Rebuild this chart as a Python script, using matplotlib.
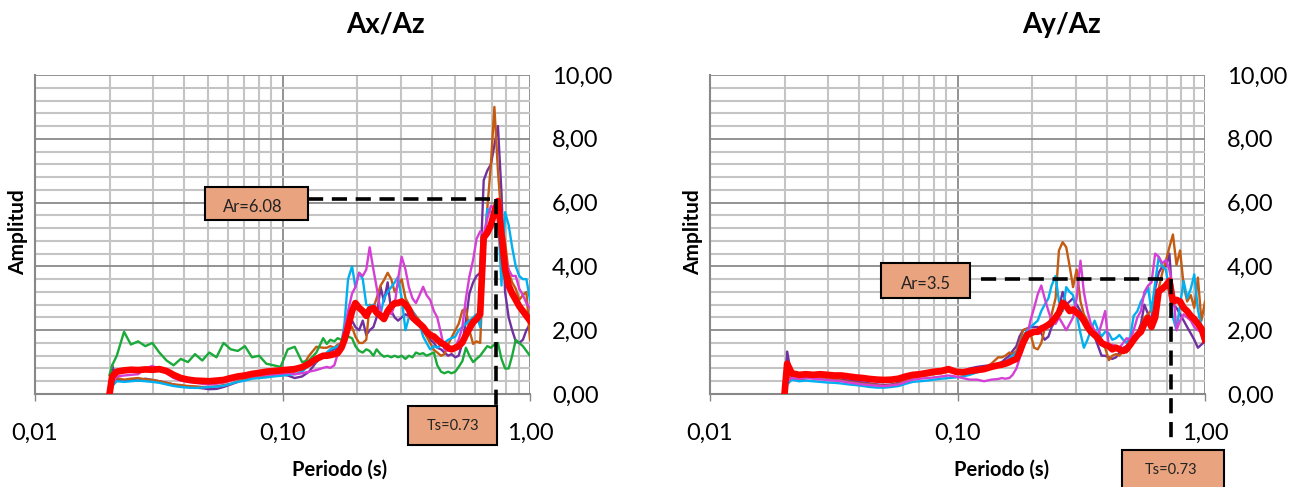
import matplotlib
matplotlib.use("Agg")
import matplotlib.pyplot as plt
from matplotlib.ticker import FixedLocator, FixedFormatter, NullFormatter, MultipleLocator
from matplotlib.patches import Rectangle

plt.rcParams['font.family'] = ['Lato', 'DejaVu Sans']

# ---------------- data ----------------
periods = [0.0200, 0.0205, 0.0214, 0.0229, 0.0244, 0.0261, 0.0279, 0.0298, 0.0318, 0.0340,
           0.0363, 0.0388, 0.0415, 0.0443, 0.0474, 0.0506, 0.0541, 0.0578, 0.0618, 0.0660,
           0.0705, 0.0753, 0.0805, 0.0860, 0.0919, 0.0982, 0.105, 0.112, 0.120, 0.128,
           0.137, 0.146,
           0.151, 0.156, 0.162, 0.167, 0.173, 0.178, 0.184, 0.191, 0.197, 0.204,
           0.211, 0.218, 0.225, 0.233, 0.240, 0.249, 0.257, 0.266, 0.275, 0.284,
           0.293, 0.303, 0.314, 0.324, 0.335, 0.346, 0.358, 0.370, 0.382, 0.395,
           0.409, 0.422, 0.437, 0.451, 0.467, 0.482, 0.499, 0.515, 0.533, 0.551,
           0.569, 0.589, 0.608, 0.629, 0.650, 0.672, 0.695, 0.718, 0.742, 0.767,
           0.793, 0.820, 0.847, 0.876, 0.905, 0.936, 0.967, 1.000]

# ---- Ax/Az ----
ax_purple = [0.00, 0.90, 0.45, 0.40, 0.45, 0.42, 0.48, 0.44, 0.40, 0.35,
             0.30, 0.25, 0.22, 0.20, 0.18, 0.15, 0.16, 0.22, 0.30, 0.38,
             0.45, 0.50, 0.55, 0.57, 0.60, 0.62, 0.58, 0.50, 0.55, 0.70,
             1.00, 1.20,
             1.25, 1.35, 1.40, 1.45, 1.55, 1.80, 2.20, 2.30, 2.10, 2.00,
             2.30, 1.85, 2.00, 2.10, 2.40, 3.36, 2.90, 3.50, 2.60, 2.40,
             2.30, 2.40, 2.50, 2.45, 2.40, 2.30, 2.20, 2.10, 1.90, 1.70,
             1.60, 1.45, 1.40, 1.30, 1.20, 1.25, 1.15, 1.20, 1.60, 2.30,
             3.15, 3.50, 3.70, 3.80, 6.70, 7.00, 7.20, 7.80, 8.40, 6.30,
             3.20, 2.40, 2.00, 1.65, 1.60, 1.70, 2.00, 2.20]
ax_orange = [0.00, 0.35, 0.50, 0.45, 0.48, 0.50, 0.46, 0.44, 0.40, 0.35,
             0.30, 0.28, 0.25, 0.24, 0.22, 0.22, 0.24, 0.28, 0.32, 0.40,
             0.45, 0.50, 0.55, 0.58, 0.62, 0.66, 0.68, 0.70, 0.85, 1.20,
             1.48, 1.45,
             1.45, 1.50, 1.45, 1.55, 1.60, 1.90, 2.00, 2.10, 1.80, 1.60,
             1.60, 1.70, 2.80, 2.70, 3.00, 3.40, 3.57, 3.80, 3.60, 3.20,
             3.40, 3.60, 3.00, 2.80, 2.60, 2.45, 2.30, 2.00, 1.80, 1.60,
             1.38, 1.30, 1.20, 1.25, 1.55, 1.77, 2.00, 2.20, 2.62, 2.67,
             2.00, 1.57, 1.65, 1.60, 4.20, 5.80, 7.20, 9.00, 7.00, 5.50,
             4.75, 3.80, 3.50, 3.30, 2.95, 3.10, 3.20, 1.70]
ax_cyan = [0.00, 0.25, 0.40, 0.38, 0.40, 0.42, 0.40, 0.38, 0.35, 0.30,
           0.25, 0.22, 0.20, 0.19, 0.20, 0.22, 0.23, 0.26, 0.32, 0.38,
           0.42, 0.48, 0.50, 0.52, 0.55, 0.57, 0.60, 0.62, 0.70, 0.90,
           1.00, 1.20,
           1.30, 1.40, 1.45, 1.50, 1.60, 2.20, 3.60, 4.00, 3.35, 3.80,
           3.60, 2.80, 2.75, 2.80, 2.60, 2.50, 3.00, 3.20, 3.35, 3.50,
           3.67, 3.00, 2.00, 2.40, 2.60, 2.40, 2.20, 1.80, 1.60, 1.40,
           1.50, 1.45, 1.55, 1.60, 1.70, 1.75, 1.80, 2.00, 2.10, 2.20,
           2.30, 2.40, 2.50, 2.10, 4.50, 5.80, 5.70, 5.60, 5.70, 3.40,
           5.70, 5.30, 4.60, 4.00, 3.70, 3.60, 3.60, 2.95]
ax_magenta = [0.00, 0.35, 0.55, 0.58, 0.60, 0.62, 0.80, 0.88, 0.78, 0.65,
              0.50, 0.42, 0.38, 0.35, 0.32, 0.30, 0.32, 0.36, 0.42, 0.48,
              0.52, 0.55, 0.58, 0.60, 0.62, 0.64, 0.66, 0.62, 0.65, 0.70,
              0.75, 0.82,
              0.85, 0.82, 0.90, 1.25, 1.60, 2.00, 2.60, 3.15, 3.35, 3.80,
              3.70, 3.90, 4.60, 3.90, 3.35, 2.60, 2.30, 2.70, 2.50, 2.80,
              3.60, 4.30, 3.90, 3.35, 3.00, 2.85, 3.10, 3.36, 3.10, 2.95,
              2.60, 2.40, 1.90, 1.40, 1.35, 1.45, 1.50, 1.70, 2.10, 3.00,
              3.68, 4.20, 4.86, 5.10, 5.00, 5.50, 5.90, 5.80, 5.50, 4.90,
              4.30, 3.90, 3.70, 3.70, 3.30, 3.10, 2.85, 2.70]
ax_green = [0.60, 0.90, 1.20, 1.95, 1.55, 1.65, 1.50, 1.60, 1.30, 1.05,
            0.90, 1.10, 1.00, 1.25, 1.05, 1.30, 1.15, 1.60, 1.40, 1.35,
            1.50, 1.15, 1.20, 0.95, 0.90, 0.85, 1.40, 1.48, 1.00, 1.05,
            1.30, 1.75,
            1.57, 1.70, 1.65, 1.75, 1.70, 1.80, 1.80, 1.75, 1.50, 1.35,
            1.30, 1.40, 1.35, 1.20, 1.40, 1.25, 1.17, 1.20, 1.15, 1.20,
            1.15, 1.20, 1.10, 1.20, 1.15, 1.30, 1.25, 1.28, 1.20, 1.25,
            1.30, 0.90, 0.70, 0.65, 0.70, 0.65, 0.70, 0.85, 1.03, 1.45,
            1.20, 1.00, 1.10, 1.20, 1.35, 1.50, 1.45, 1.55, 1.60, 1.10,
            0.80, 0.80, 1.20, 1.70, 1.60, 1.50, 1.35, 1.20]
ax_mean = [0.00, 0.55, 0.70, 0.74, 0.76, 0.75, 0.77, 0.76, 0.78, 0.72,
           0.60, 0.50, 0.45, 0.42, 0.41, 0.40, 0.42, 0.44, 0.50, 0.55,
           0.58, 0.63, 0.66, 0.70, 0.72, 0.74, 0.76, 0.78, 0.84, 0.95,
           1.10, 1.20,
           1.20, 1.22, 1.25, 1.28, 1.45, 1.70, 2.10, 2.60, 2.85, 2.70,
           2.60, 2.45, 2.65, 2.70, 2.55, 2.45, 2.35, 2.60, 2.75, 2.85,
           2.85, 2.90, 2.80, 2.65, 2.40, 2.30, 2.20, 2.10, 1.95, 1.85,
           1.80, 1.70, 1.60, 1.55, 1.45, 1.40, 1.45, 1.50, 1.62, 1.85,
           2.05, 2.25, 2.35, 2.50, 4.90, 5.05, 5.30, 5.70, 6.05, 5.00,
           3.90, 3.40, 3.15, 2.95, 2.75, 2.60, 2.45, 2.30]

# ---- Ay/Az ----
ay_purple = [0.00, 1.33, 0.50, 0.45, 0.50, 0.52, 0.50, 0.48, 0.46, 0.45,
             0.42, 0.40, 0.36, 0.33, 0.30, 0.28, 0.30, 0.35, 0.45, 0.52,
             0.58, 0.62, 0.68, 0.75, 0.80, 0.72, 0.70, 0.80, 0.85, 0.88,
             0.90, 0.95,
             1.00, 1.10, 1.20, 1.35, 1.50, 1.80, 2.00, 2.05, 2.10, 2.10,
             2.10, 1.90, 1.70, 1.80, 2.10, 2.30, 2.70, 3.20, 2.80, 2.90,
             3.00, 2.80, 2.60, 2.40, 2.20, 2.10, 1.80, 1.50, 1.20, 1.20,
             1.15, 1.10, 1.15, 1.30, 1.45, 1.50, 1.60, 1.75, 1.90, 2.20,
             2.80, 2.50, 2.30, 3.30, 3.80, 4.00, 4.00, 4.40, 2.80, 2.70,
             2.50, 2.30, 2.10, 1.90, 1.70, 1.45, 1.55, 1.65]
ay_orange = [0.00, 0.60, 0.45, 0.48, 0.50, 0.52, 0.50, 0.48, 0.45, 0.42,
             0.38, 0.35, 0.32, 0.30, 0.28, 0.25, 0.28, 0.32, 0.42, 0.50,
             0.55, 0.58, 0.62, 0.65, 0.70, 0.66, 0.65, 0.70, 0.75, 0.80,
             0.95, 1.15,
             1.15, 1.20, 1.30, 1.25, 1.35, 1.60, 2.00, 2.05, 1.90, 1.45,
             1.40, 1.60, 2.05, 2.10, 2.50, 3.00, 4.50, 4.76, 4.60, 4.00,
             3.35, 3.90, 2.90, 2.50, 2.30, 2.10, 1.80, 1.90, 1.60, 1.45,
             1.06, 1.20, 1.25, 1.20, 1.35, 1.30, 1.50, 1.70, 1.90, 2.10,
             2.40, 2.50, 2.65, 2.90, 3.30, 3.80, 4.18, 4.60, 5.00, 4.05,
             4.50, 3.40, 2.90, 3.10, 2.70, 3.65, 2.30, 2.90]
ay_cyan = [0.00, 0.30, 0.45, 0.40, 0.42, 0.40, 0.38, 0.36, 0.35, 0.33,
           0.30, 0.28, 0.25, 0.22, 0.20, 0.20, 0.22, 0.25, 0.32, 0.38,
           0.40, 0.42, 0.45, 0.48, 0.50, 0.52, 0.55, 0.60, 0.68, 0.75,
           0.85, 0.90,
           0.95, 1.00, 1.10, 1.20, 1.30, 1.50, 1.80, 2.00, 2.10, 2.20,
           2.30, 2.60, 2.80, 3.00, 3.40, 3.70, 2.90, 2.60, 3.35, 3.20,
           3.10, 2.50, 1.90, 1.45, 1.70, 2.00, 2.30, 2.00, 1.80, 1.95,
           1.90, 1.70, 1.75, 1.85, 1.70, 1.60, 1.80, 2.45, 2.60, 2.90,
           3.10, 3.33, 2.60, 3.50, 4.30, 4.00, 3.90, 3.20, 2.40, 2.00,
           2.80, 3.54, 3.00, 3.30, 3.75, 2.65, 2.10, 1.60]
ay_magenta = [0.00, 0.40, 0.50, 0.48, 0.50, 0.48, 0.46, 0.44, 0.42, 0.40,
              0.36, 0.33, 0.30, 0.28, 0.26, 0.25, 0.27, 0.30, 0.38, 0.45,
              0.48, 0.50, 0.52, 0.55, 0.58, 0.55, 0.50, 0.45, 0.45, 0.40,
              0.45, 0.47,
              0.50, 0.48, 0.50, 0.60, 0.80, 1.10, 1.45, 1.80, 2.30, 2.70,
              3.13, 3.40, 3.00, 2.60, 2.30, 2.20, 2.40, 2.20, 2.00, 2.20,
              2.40, 3.00, 4.18, 3.20, 2.60, 2.20, 2.00, 1.85, 2.20, 2.60,
              1.45, 1.55, 1.50, 1.45, 1.60, 1.75, 1.70, 2.00, 2.40, 2.60,
              3.20, 3.40, 3.50, 4.40, 4.30, 4.10, 4.20, 3.90, 3.30, 2.00,
              2.30, 2.50, 2.40, 2.30, 2.10, 2.00, 1.95, 1.90]
ay_mean = [0.00, 0.95, 0.65, 0.60, 0.62, 0.60, 0.62, 0.60, 0.58, 0.58,
           0.55, 0.52, 0.50, 0.47, 0.45, 0.44, 0.45, 0.48, 0.55, 0.60,
           0.62, 0.66, 0.70, 0.72, 0.78, 0.70, 0.68, 0.72, 0.75, 0.78,
           0.85, 0.90,
           0.92, 0.95, 1.00, 1.05, 1.10, 1.30, 1.60, 1.85, 1.90, 1.95,
           1.95, 2.05, 2.10, 2.17, 2.25, 2.40, 2.55, 2.86, 2.75, 2.60,
           2.65, 2.55, 2.45, 2.30, 2.10, 1.95, 1.85, 1.75, 1.60, 1.54,
           1.50, 1.40, 1.45, 1.40, 1.35, 1.40, 1.55, 1.70, 1.85, 1.95,
           2.20, 2.38, 2.10, 2.40, 3.22, 3.30, 3.40, 3.55, 2.90, 2.95,
           2.90, 2.70, 2.60, 2.45, 2.35, 2.20, 2.05, 1.70]

titles = ["Ax/Az", "Ay/Az"]
x_ticks = [0.01, 0.1, 1.0]
x_labels = ["0,01", "0,10", "1,00"]
y_ticks = [0, 2, 4, 6, 8, 10]
y_labels = ["0,00", "2,00", "4,00", "6,00", "8,00", "10,00"]
ts_value = 0.73
ar_labels = ["Ar=6.08", "Ar=3.5"]
ar_levels = [6.1, 3.62]
ts_label = "Ts=0.73"

# ---------------- style ----------------
C_PURPLE = '#7030A0'
C_ORANGE = '#C55A11'
C_CYAN = '#00B0F0'
C_MAGENTA = '#D63FD6'
C_GREEN = '#1AAA3A'
C_RED = '#FF0000'
BOX_FC = '#E9A47F'

W, H = 1306, 487
fig = plt.figure(figsize=(W / 100, H / 100), dpi=100)


def px_axes(x0, x1, ytop, ybot):
    return fig.add_axes([x0 / W, 1 - ybot / H, (x1 - x0) / W, (ybot - ytop) / H])


minor_x = [m * d for d in (0.01, 0.1) for m in range(2, 10)]


def style(ax):
    ax.set_xscale('log')
    ax.set_xlim(0.01, 1.0)
    ax.set_ylim(0, 10)
    ax.xaxis.set_major_locator(FixedLocator(x_ticks))
    ax.xaxis.set_major_formatter(FixedFormatter(x_labels))
    ax.xaxis.set_minor_locator(FixedLocator(minor_x))
    ax.xaxis.set_minor_formatter(NullFormatter())
    ax.yaxis.set_major_locator(FixedLocator(y_ticks))
    ax.yaxis.set_major_formatter(FixedFormatter(y_labels))
    ax.yaxis.set_minor_locator(MultipleLocator(0.4))
    ax.yaxis.tick_right()
    ax.tick_params(axis='y', which='both', length=0, pad=16, labelsize=17)
    ax.tick_params(axis='x', which='major', length=5, width=1, color='#888888',
                   pad=16, labelsize=17, direction='out')
    ax.tick_params(axis='x', which='minor', length=0)
    ax.grid(which='minor', color='#C4C4C4', lw=1.5)
    ax.grid(which='major', color='#8A8A8A', lw=1.3)
    ax.set_axisbelow(True)
    for s in ('top', 'right'):
        ax.spines[s].set_visible(False)
    for s in ('left', 'bottom'):
        ax.spines[s].set_color('#888888')
        ax.spines[s].set_linewidth(1.5)


def annotate(ax, ar_text, ar_level, ar_box, ar_text_xy, ar_clip_bottom,
             dash_x0, v_bottom, ts_box, ts_text_xy):
    dash = dict(color='black', lw=2.6, dashes=(4.2, 2.4), solid_capstyle='butt',
                dash_capstyle='butt', clip_on=False, zorder=6)
    ax.plot([dash_x0, ts_value], [ar_level, ar_level], **dash)
    ax.plot([ts_value, ts_value], [ar_level, v_bottom], **dash)
    (bx0, bx1, by0, by1) = ar_box
    r = Rectangle((bx0, by0), bx1 - bx0, by1 - by0, transform=ax.transData,
                  facecolor=BOX_FC, edgecolor='black', lw=1.5, zorder=7, clip_on=False)
    ax.add_patch(r)
    t = ax.text(ar_text_xy[0], ar_text_xy[1], ar_text, ha='center', va='baseline',
                fontsize=12, color='#222222', zorder=8)
    clip = Rectangle((bx0, ar_clip_bottom), bx1 - bx0, by1 - ar_clip_bottom,
                     transform=ax.transData)
    t.set_clip_path(clip)
    (tx0, tx1, ty0, ty1) = ts_box
    r2 = Rectangle((tx0, ty0), tx1 - tx0, ty1 - ty0, transform=ax.transData,
                   facecolor=BOX_FC, edgecolor='black', lw=1.5, zorder=7, clip_on=False)
    ax.add_patch(r2)
    ax.text(ts_text_xy[0], ts_text_xy[1], ts_label, ha='center', va='center',
            fontsize=10.5, color='#222222', zorder=8, clip_on=False)


axL = px_axes(35, 530, 75, 394)
axR = px_axes(710, 1205, 75, 394)

style(axL)
style(axR)

thin = dict(lw=1.7, solid_joinstyle='round')
axL.plot(periods, ax_purple, color=C_PURPLE, **thin)
axL.plot(periods, ax_orange, color=C_ORANGE, **thin)
axL.plot(periods, ax_cyan, color=C_CYAN, **thin)
axL.plot(periods, ax_magenta, color=C_MAGENTA, **thin)
axL.plot(periods, ax_green, color=C_GREEN, **thin)
axL.plot(periods, ax_mean, color=C_RED, lw=4.8, solid_joinstyle='round', zorder=5)

axR.plot(periods, ay_purple, color=C_PURPLE, **thin)
axR.plot(periods, ay_orange, color=C_ORANGE, **thin)
axR.plot(periods, ay_cyan, color=C_CYAN, **thin)
axR.plot(periods, ay_magenta, color=C_MAGENTA, **thin)
axR.plot(periods, ay_mean, color=C_RED, lw=4.8, solid_joinstyle='round', zorder=5)

annotate(axL, ar_labels[0], ar_levels[0],
         ar_box=(0.0485, 0.127, 5.46, 6.5), ar_text_xy=(0.076, 5.69), ar_clip_bottom=5.80,
         dash_x0=0.127, v_bottom=-0.39,
         ts_box=(0.321, 0.737, -1.61, -0.39), ts_text_xy=(0.487, -1.0))
annotate(axR, ar_labels[1], ar_levels[1],
         ar_box=(0.0493, 0.112, 3.0, 4.1), ar_text_xy=(0.0745, 3.30), ar_clip_bottom=3.41,
         dash_x0=0.125, v_bottom=-1.43,
         ts_box=(0.464, 1.197, -3.2, -1.74), ts_text_xy=(0.73, -2.39))

# titles and axis labels
fig.text(385 / W, 1 - 25 / H, titles[0], ha='center', va='center', fontsize=20, fontweight='bold')
fig.text(1062 / W, 1 - 25 / H, titles[1], ha='center', va='center', fontsize=20, fontweight='bold')
for xc in (18, 693):
    fig.text(xc / W, 1 - 232 / H, "Amplitud", ha='center', va='center', rotation=90,
             fontsize=15, fontweight='bold')
for xc in (340, 1002):
    fig.text(xc / W, 1 - 470 / H, "Periodo (s)", ha='center', va='center',
             fontsize=14.5, fontweight='bold')

fig.savefig('out.png', dpi=100)
